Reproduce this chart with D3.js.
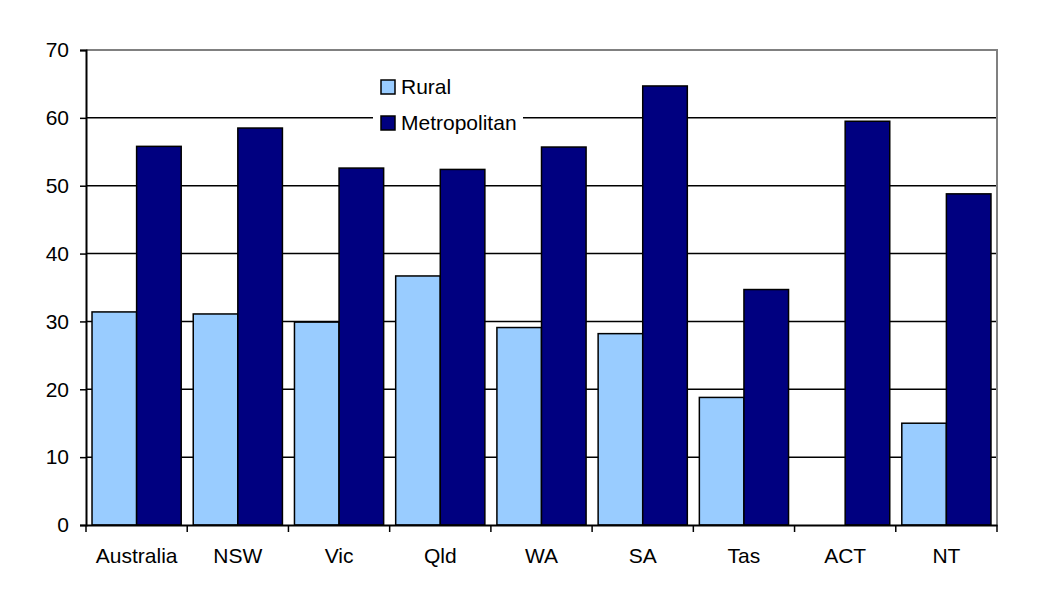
<!DOCTYPE html>
<html>
<head>
<meta charset="utf-8">
<script src="https://cdn.jsdelivr.net/npm/d3@7"></script>
<style>
    body { margin: 0; background: #fff; }
    svg text { font-family: Arial, "Liberation Sans", sans-serif; font-size: 21px; fill: #000; }
</style>
</head>
<body>
<svg id="chart" width="1048" height="602"></svg>
<script>
(function () {
    'use strict';

    // data
    var categories = ['Australia', 'NSW', 'Vic', 'Qld', 'WA', 'SA', 'Tas', 'ACT', 'NT'];
    var rural = [31.4, 31.1, 29.9, 36.7, 29.1, 28.2, 18.8, 0, 15.0];
    var metro = [55.8, 58.5, 52.6, 52.4, 55.7, 64.7, 34.7, 59.5, 48.8];
    var yTicks = [0, 10, 20, 30, 40, 50, 60, 70];
    var seriesNames = ['Rural', 'Metropolitan'];
    var colours = ['#99ccff', '#000080'];

    // layout
    var left = 86, right = 997, top = 50, bottom = 525;

    var svg = d3.select('#chart');

    var x = d3.scaleBand()
        .domain(categories)
        .range([left, right])
        .paddingInner(0)
        .paddingOuter(0);

    var inner = d3.scaleBand()
        .domain(seriesNames)
        .range([0, x.bandwidth()])
        .paddingOuter(0.135)
        .paddingInner(0);

    var y = d3.scaleLinear()
        .domain([0, 70])
        .range([bottom, top]);

    // gridlines
    svg.append('g')
        .selectAll('line')
        .data(yTicks.filter(function (d) { return d > 0 && d < 70; }))
        .join('line')
        .attr('x1', left)
        .attr('x2', right)
        .attr('y1', function (d) { return y(d); })
        .attr('y2', function (d) { return y(d); })
        .attr('stroke', '#000')
        .attr('stroke-width', 1.5);

    // plot border, top and right in gray
    svg.append('path')
        .attr('d', 'M' + left + ',' + y(70) + 'H' + right + 'V' + bottom)
        .attr('fill', 'none')
        .attr('stroke', '#808080')
        .attr('stroke-width', 2);

    // bars
    var series = [rural, metro];
    series.forEach(function (vals, si) {
        svg.append('g')
            .selectAll('rect')
            .data(categories.filter(function (c, i) { return vals[i] > 0; }))
            .join('rect')
            .attr('x', function (c) { return x(c) + inner(seriesNames[si]); })
            .attr('width', inner.bandwidth())
            .attr('y', function (c) { return y(vals[categories.indexOf(c)]); })
            .attr('height', function (c) { return bottom - y(vals[categories.indexOf(c)]); })
            .attr('fill', colours[si])
            .attr('stroke', '#000')
            .attr('stroke-width', 1.5);
    });

    // y axis
    var yAxis = svg.append('g')
        .attr('transform', 'translate(' + left + ',0)')
        .call(d3.axisLeft(y).tickValues(yTicks).tickSize(6).tickPadding(11));
    yAxis.select('.domain').attr('stroke', '#000').attr('stroke-width', 2);
    yAxis.selectAll('.tick line').attr('stroke', '#000').attr('stroke-width', 1.5);

    // x axis, ticks on the category boundaries
    var xAxis = svg.append('g')
        .attr('transform', 'translate(0,' + bottom + ')')
        .call(d3.axisBottom(x).tickSize(0).tickPadding(23));
    xAxis.select('.domain').attr('stroke', '#000').attr('stroke-width', 2);

    svg.append('g')
        .selectAll('line')
        .data(categories.concat(['end']))
        .join('line')
        .attr('x1', function (c, i) { return i < categories.length ? x(c) : right; })
        .attr('x2', function (c, i) { return i < categories.length ? x(c) : right; })
        .attr('y1', bottom)
        .attr('y2', bottom + 7)
        .attr('stroke', '#000')
        .attr('stroke-width', 1.5);

    // legend
    var legend = svg.append('g').attr('transform', 'translate(373,72)');
    legend.append('rect')
        .attr('width', 150)
        .attr('height', 66)
        .attr('fill', '#fff');

    var item = legend.selectAll('g')
        .data(seriesNames)
        .join('g')
        .attr('transform', function (d, i) { return 'translate(8,' + (8 + i * 36) + ')'; });
    item.append('rect')
        .attr('width', 14)
        .attr('height', 14)
        .attr('fill', function (d, i) { return colours[i]; })
        .attr('stroke', '#000')
        .attr('stroke-width', 1.5);
    item.append('text')
        .attr('x', 20)
        .attr('y', 14)
        .text(function (d) { return d; });
}());
</script>
</body>
</html>
